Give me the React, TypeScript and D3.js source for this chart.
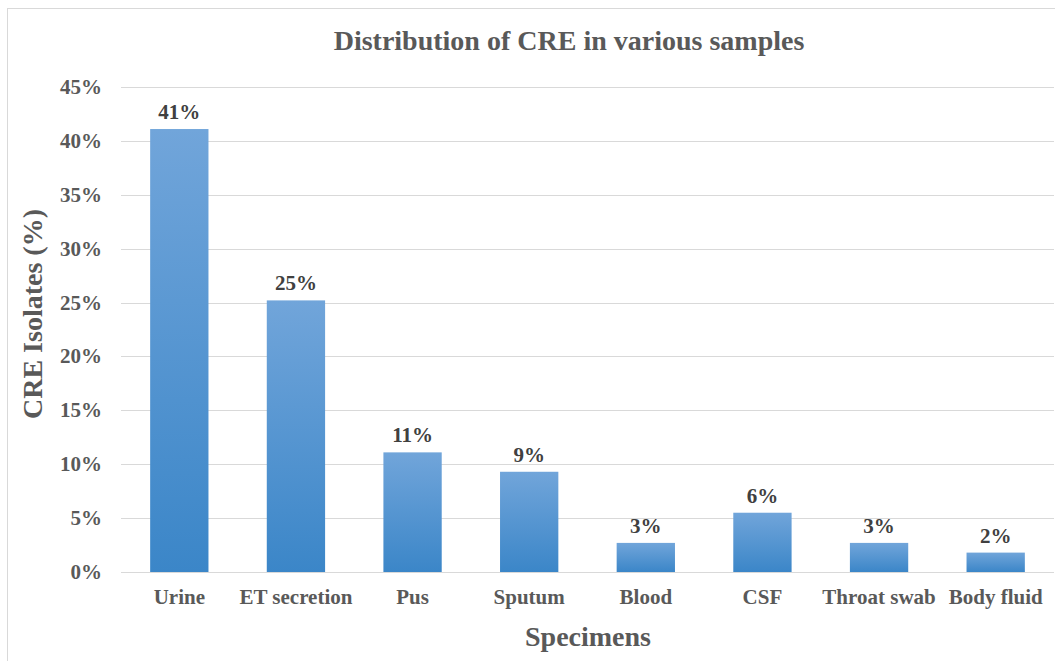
import React, { useRef, useEffect } from 'react'
import * as d3 from 'd3'

const categories = ['Urine', 'ET secretion', 'Pus', 'Sputum', 'Blood', 'CSF', 'Throat swab', 'Body fluid']
const values = [41.1, 25.2, 11.1, 9.3, 2.7, 5.5, 2.7, 1.8]
const valueLabels = ['41%', '25%', '11%', '9%', '3%', '6%', '3%', '2%']
const yTicks = [0, 5, 10, 15, 20, 25, 30, 35, 40, 45]

const W = 1055
const H = 661
const FONT = '"Liberation Serif", "Times New Roman", serif'

const App = () => {
  const svgRef = useRef<SVGSVGElement>(null)

  useEffect(() => {
    const svg = d3.select(svgRef.current).attr('width', W).attr('height', H)
    svg.selectAll('*').remove()

    const x = d3.scaleBand().domain(categories).range([121, 1054]).paddingInner(0.5).paddingOuter(0.25)
    const y = d3.scaleLinear().domain([0, 45]).range([572, 87])

    // gradient for bars
    const grad = svg
      .append('defs')
      .append('linearGradient')
      .attr('id', 'barGrad')
      .attr('x1', 0)
      .attr('y1', 0)
      .attr('x2', 0)
      .attr('y2', 1)
    grad.append('stop').attr('offset', '0%').attr('stop-color', '#71a5da')
    grad.append('stop').attr('offset', '100%').attr('stop-color', '#3b86c8')

    // chart frame
    svg
      .append('rect')
      .attr('x', 7.5)
      .attr('y', 8.5)
      .attr('width', W)
      .attr('height', H)
      .attr('fill', 'white')
      .attr('stroke', '#d9d9d9')

    // gridlines
    svg
      .append('g')
      .selectAll('line')
      .data(yTicks)
      .enter()
      .append('line')
      .attr('x1', 121)
      .attr('x2', 1054)
      .attr('y1', (d) => Math.round(y(d)) + 0.5)
      .attr('y2', (d) => Math.round(y(d)) + 0.5)
      .attr('stroke', '#d9d9d9')
      .attr('stroke-width', 1)

    // y tick labels
    svg
      .append('g')
      .selectAll('text')
      .data(yTicks)
      .enter()
      .append('text')
      .attr('x', 102)
      .attr('y', (d) => y(d) + 7)
      .attr('text-anchor', 'end')
      .attr('font-family', FONT)
      .attr('font-weight', 'bold')
      .attr('font-size', 21)
      .attr('fill', '#595959')
      .text((d) => d + '%')

    // bars
    svg
      .append('g')
      .selectAll('rect')
      .data(values)
      .enter()
      .append('rect')
      .attr('x', (d, i) => x(categories[i]))
      .attr('y', (d) => y(d))
      .attr('width', x.bandwidth())
      .attr('height', (d) => y(0) - y(d))
      .attr('fill', 'url(#barGrad)')

    // value labels
    svg
      .append('g')
      .selectAll('text')
      .data(values)
      .enter()
      .append('text')
      .attr('x', (d, i) => x(categories[i]) + x.bandwidth() / 2)
      .attr('y', (d) => y(d) - 10)
      .attr('text-anchor', 'middle')
      .attr('font-family', FONT)
      .attr('font-weight', 'bold')
      .attr('font-size', 21)
      .attr('fill', '#404040')
      .text((d, i) => valueLabels[i])

    // x tick labels
    svg
      .append('g')
      .selectAll('text')
      .data(categories)
      .enter()
      .append('text')
      .attr('x', (d) => x(d) + x.bandwidth() / 2)
      .attr('y', 604)
      .attr('text-anchor', 'middle')
      .attr('font-family', FONT)
      .attr('font-weight', 'bold')
      .attr('font-size', 21)
      .attr('fill', '#595959')
      .text((d) => d)

    // title
    svg
      .append('text')
      .attr('x', 569)
      .attr('y', 50)
      .attr('text-anchor', 'middle')
      .attr('font-family', FONT)
      .attr('font-weight', 'bold')
      .attr('font-size', 28)
      .attr('fill', '#595959')
      .text('Distribution of CRE in various samples')

    // axis titles
    svg
      .append('text')
      .attr('x', 588)
      .attr('y', 646)
      .attr('text-anchor', 'middle')
      .attr('font-family', FONT)
      .attr('font-weight', 'bold')
      .attr('font-size', 28)
      .attr('fill', '#595959')
      .text('Specimens')

    svg
      .append('text')
      .attr('transform', 'translate(42,314) rotate(-90)')
      .attr('text-anchor', 'middle')
      .attr('font-family', FONT)
      .attr('font-weight', 'bold')
      .attr('font-size', 28)
      .attr('fill', '#595959')
      .text('CRE Isolates (%)')
  }, [])

  return <svg ref={svgRef} style={{ position: 'absolute', left: 0, top: 0 }} />
}

export default App
